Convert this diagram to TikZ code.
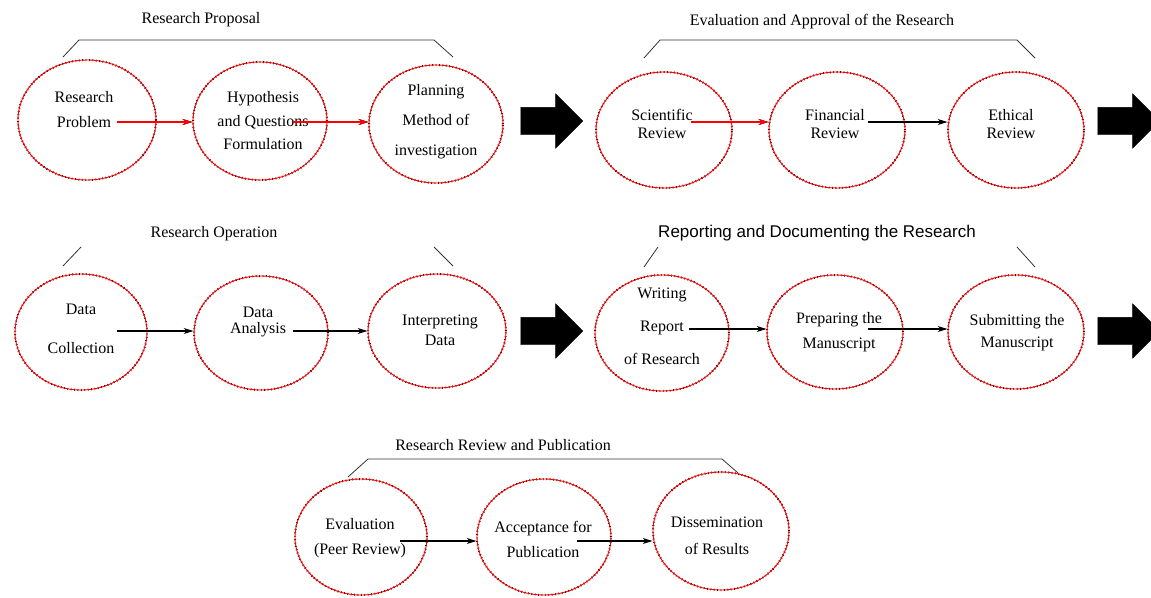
\documentclass[tikz,border=0pt]{standalone}
\usepackage{fontspec}
\setmainfont{Liberation Serif}
\setsansfont{Liberation Sans}
\usetikzlibrary{shapes.geometric,shapes.arrows,arrows.meta}

\begin{document}
\begin{tikzpicture}[
  x=1pt, y=-1pt,
  every node/.style = {font=\fontsize{16}{19}\selectfont},
  bub/.style = {ellipse, draw=red, line width=0.9pt, inner sep=0pt,
    minimum width=136pt, minimum height=116pt,
    preaction={draw=black, line width=2pt, dash pattern=on 0.8pt off 2.6pt}},
  txt/.style = {align=center, inner sep=0pt, font=\fontsize{16}{#1}\selectfont},
  ttl/.style = {inner sep=0pt},
  arr/.style = {-{Stealth[length=10pt,width=6pt]}, line width=1.1pt},
  arrR/.style = {arr, draw=red, preaction={draw=black, line width=2pt}},
  brk/.style = {line width=0.8pt, black!80},
  bigarr/.style = {single arrow, fill=black, draw=black, inner sep=0pt,
    text height=27pt, minimum height=62pt, single arrow head extend=13.5pt}
]
\useasboundingbox (0,0) rectangle (1151,597);

% row 1, left: research proposal
\node[ttl] (prop) at (201,20) {Research Proposal};
\draw[brk] (63,57) -- (79,40) -- (434,40) -- (453,57);
\node[bub, minimum width=138pt, minimum height=120pt] (c1) at (87,120) {};
\node[bub, minimum width=134pt, minimum height=118pt] (c2) at (260,121) {};
\node[bub, minimum width=134pt, minimum height=118pt] (c3) at (436,124) {};
\node[txt=25]   (t1) at (84,110)  {Research\\Problem};
\node[txt=23.5] (t2) at (263,121) {Hypothesis\\and Questions\\Formulation};
\node[txt=30]   (t3) at (436,122) {Planning\\Method of\\investigation};
\coordinate (s1) at (117,122);
\coordinate (s2) at (293,122);
\draw[arrR] (s1) -- (s1 -| c2.west);
\draw[arrR] (s2) -- (s2 -| c3.west);
\node[bigarr] (go1) at (545,121) {};

% row 1, right: evaluation and approval
\node[ttl] (eval) at (822,22) {Evaluation and Approval of the Research};
\draw[brk] (644,58) -- (660,40) -- (1017,40) -- (1035,58);
\node[bub] (c4) at (664,130) {};
\node[bub] (c5) at (837,130) {};
\node[bub] (c6) at (1016,130) {};
\node[txt=18] (t4) at (662,124)  {Scientific\\Review};
\node[txt=18] (t5) at (835,124)  {Financial\\Review};
\node[txt=18] (t6) at (1011,124) {Ethical\\Review};
\coordinate (s4) at (691,122);
\coordinate (s5) at (868,122);
\draw[arrR] (s4) -- (s4 -| c5.west);
\draw[arr]  (s5) -- (s5 -| c6.west);
\node[bigarr] (go2) at (1122,121) {};

% row 2, left: research operation
\node[ttl] (oper) at (214,234) {Research Operation};
\draw[brk] (63,266) -- (81,247);
\draw[brk] (434,247) -- (453,266);
\node[bub, minimum width=132pt] (c7) at (81,332) {};
\node[bub, minimum width=134pt, minimum height=114pt] (c8) at (261,333) {};
\node[bub, minimum width=138pt, minimum height=114pt] (c9) at (437,331) {};
\node[txt=39] (t7) at (81,328.5) {Data\\Collection};
\node[txt=16] (t8) at (258,322)  {Data\\Analysis};
\node[txt=20] (t9) at (440,330)  {Interpreting\\Data};
\coordinate (s7) at (117,331);
\coordinate (s8) at (293,331);
\draw[arr] (s7) -- (s7 -| c8.west);
\draw[arr] (s8) -- (s8 -| c9.west);
\node[bigarr] (go3) at (545,331) {};

% row 2, right: reporting and documenting
\node[ttl, font=\sffamily\fontsize{17}{20}\selectfont] (repo) at (817,233)
  {Reporting and Documenting the Research};
\draw[brk] (644,267) -- (658,247);
\draw[brk] (1017,247) -- (1035,267);
\node[bub, minimum width=134pt] (c10) at (662,333) {};
\node[bub, minimum height=114pt] (c11) at (835,332) {};
\node[bub, minimum height=114pt] (c12) at (1016,332) {};
\node[txt=33] (t10) at (662,326)  {Writing\\Report\\of Research};
\node[txt=25] (t11) at (839,332.5) {Preparing the\\Manuscript};
\node[txt=22] (t12) at (1017,333) {Submitting the\\Manuscript};
\coordinate (s10) at (689,329);
\coordinate (s11) at (868,329);
\draw[arr] (s10) -- (s10 -| c11.west);
\draw[arr] (s11) -- (s11 -| c12.west);
\node[bigarr] (go4) at (1122,331) {};

% row 3: review and publication
\node[ttl] (publ) at (503,445) {Research Review and Publication};
\draw[brk] (348,477) -- (368,459) -- (722,459) -- (738,473);
\node[bub, minimum width=132pt] (c13) at (361,537) {};
\node[bub, minimum width=134pt] (c14) at (544,537) {};
\node[bub, minimum height=118pt] (c15) at (721,531) {};
\node[txt=25] (t13) at (360,538.5) {Evaluation\\(Peer Review)};
\node[txt=25] (t14) at (543,539.5) {Acceptance for\\Publication};
\node[txt=27] (t15) at (717,535.5) {Dissemination\\of Results};
\coordinate (s13) at (400,541);
\coordinate (s14) at (577,541);
\draw[arr] (s13) -- (s13 -| c14.west);
\draw[arr] (s14) -- (s14 -| c15.west);
\end{tikzpicture}
\end{document}
